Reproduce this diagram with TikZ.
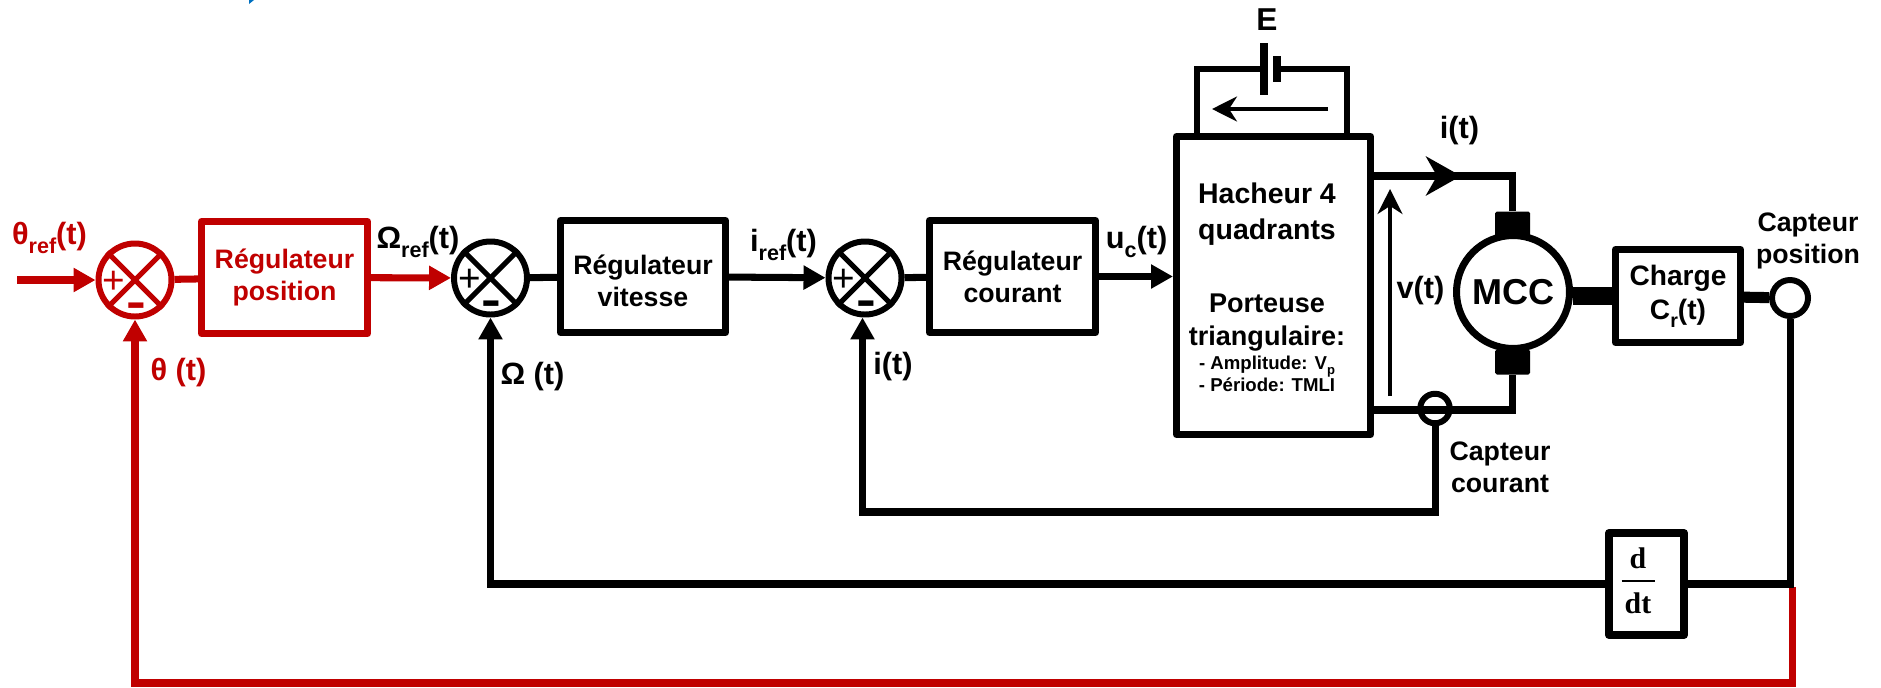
\documentclass[tikz,border=0pt]{standalone}
\usepackage{fontspec}
\setmainfont{Liberation Sans}
\newfontfamily\fonteserif{Liberation Serif}
\usetikzlibrary{arrows.meta}
\definecolor{rougeboucle}{HTML}{C00000}
\definecolor{bleutrace}{HTML}{0070C0}
\newcommand{\indice}[1]{\raisebox{-.28em}{\scalebox{.7}{#1}}}

\begin{document}
\begin{tikzpicture}[
every node/.style={
font=\bfseries\fontsize{15.2}{18.2}\selectfont,
align=center,
inner sep=0pt
},
bloc/.style={
draw,
line width=4pt,
line join=round
},
sommateur/.style={
draw,
circle,
line width=3.4pt,
minimum size=1.46cm
},
capteur/.style={
draw,
circle,
fill=white,
line width=3.4pt
},
balai/.style={
fill=black,
rounded corners=1pt,
minimum width=.7cm,
minimum height=.5cm
},
etiquette/.style={
font=\bfseries\fontsize{17.5}{20}\selectfont
},
fil/.style={
line width=4pt
},
fleche/.style={
fil,
-{Triangle[length=.44cm,width=.46cm]}
},
fine/.style={
line width=2pt,
-{Stealth[length=.5cm,width=.5cm,inset=.16cm]}
},
rouge/.style={
draw=rougeboucle,
text=rougeboucle
}
]

\useasboundingbox (0,0) rectangle (37.62,-13.74);

\fill[bleutrace] (4.98,0) -- (5.08,0) -- (4.98,-.08) -- cycle;

\node[sommateur,rouge] (sommeth) at (2.7,-5.6)
{};

\node[bloc,rouge,minimum width=3.32cm,minimum height=2.24cm] (regpos) at (5.69,-5.55)
{Régulateur\\position};

\node[sommateur] (sommev) at (9.81,-5.56)
{};

\node[bloc,minimum width=3.3cm,minimum height=2.24cm] (regvit) at (12.86,-5.53)
{\rule{0pt}{16.5pt}Régulateur\\vitesse};

\node[sommateur] (sommei) at (17.3,-5.56)
{};

\node[bloc,minimum width=3.32cm,minimum height=2.24cm] (regcour) at (20.25,-5.53)
{Régulateur\\courant};

\node[bloc,minimum width=3.88cm,minimum height=5.96cm] (hacheur) at (25.47,-5.71)
{};

\node[font=\bfseries\fontsize{16.2}{20.6}\selectfont] (hacheurtitre) at (25.34,-4.28)
{Hacheur 4\\quadrants};

\node[font=\bfseries\fontsize{15.4}{18.8}\selectfont] (porteuse) at (25.34,-6.46)
{Porteuse\\triangulaire:};

\node[font=\bfseries\fontsize{10.6}{12.5}\selectfont] (parametres) at (25.34,-7.47)
{- Amplitude: V\indice{p}\\- Période: TMLI};

\node[balai] (balaihaut) at (30.25,-4.48)
{};

\node[balai] (balaibas) at (30.25,-7.24)
{};

\node[draw,circle,fill=white,line width=4pt,minimum size=2.26cm,font=\bfseries\fontsize{20.5}{24}\selectfont] (moteur) at (30.26,-5.84)
{MCC};

\node[bloc,minimum width=2.5cm,minimum height=1.86cm,font=\bfseries\fontsize{16}{19.4}\selectfont] (charge) at (33.56,-5.92)
{Charge\\C\indice{r}(t)};

\node[capteur,minimum size=.59cm,fill=none] (capteurcourant) at (28.7,-8.17)
{};

\node[capteur,minimum size=.72cm] (capteurposition) at (35.8,-5.96)
{};

\node[bloc,line width=4.5pt,minimum width=1.5cm,minimum height=2.04cm] (derivee) at (32.93,-11.68)
{};

\node[font=\fonteserif\bfseries\fontsize{17}{13}\selectfont] (fraction) at (32.76,-11.62)
{d\\[-5.6pt]\rule{.66cm}{1pt}\\[5.2pt]dt};

\node[fill=black,minimum width=.16cm,minimum height=1.04cm] (plaquelongue) at (25.28,-1.38)
{};

\node[fill=black,minimum width=.16cm,minimum height=.52cm] (plaquecourte) at (25.54,-1.38)
{};

\coordinate (entree) at (.34,-5.6);
\coordinate (battg) at (23.94,-2.7);
\coordinate (battd) at (26.94,-2.7);
\coordinate (batfin) at (24.24,-2.18);
\coordinate (batdebut) at (26.56,-2.18);
\coordinate (sortiei) at (27.48,-3.52);
\coordinate (pointei) at (29.22,-3.52);
\coordinate (sortiebas) at (27.48,-8.2);
\coordinate (tensionbas) at (27.8,-7.92);
\coordinate (tensionhaut) at (27.8,-3.78);
\coordinate (coudei) at (17.25,-10.24);
\coordinate (departth) at (35.84,-11.74);
\coordinate (coudeth) at (2.7,-13.66);

\foreach \s/\c in {sommeth/rougeboucle,sommev/black,sommei/black}{
\draw[\c,line width=3pt] (\s.45) -- (\s.225);
\draw[\c,line width=3pt] (\s.135) -- (\s.-45);
\node[text=\c,font=\normalfont\fontsize{22}{22}\selectfont] (\s plus) at ([xshift=-.42cm,yshift=-.04cm]\s)
{+};
\node[text=\c,font=\bfseries\fontsize{26}{26}\selectfont] (\s moins) at ([xshift=.02cm,yshift=-.6cm]\s)
{\scalebox{1.3}[1]{-}};
}

\draw[fleche,rougeboucle] (entree) -- (sommeth);
\draw[fil,rougeboucle] (sommeth) -- (regpos);
\draw[fleche,rougeboucle] (regpos) -- (sommev);
\draw[fil] (sommev) -- (regvit);
\draw[fleche] (regvit) -- (sommei);
\draw[fil] (sommei) -- (regcour);
\draw[fleche] (regcour) -- (regcour -| hacheur.west);

\draw[line width=3.4pt] (battg) |- (plaquelongue);
\draw[line width=3.4pt] (battd) |- (plaquecourte);
\draw[fine] (batdebut) -- (batfin);

\draw[fil] (sortiei) -| (balaihaut);
\draw[fil,-{Stealth[length=.7cm,width=.78cm,inset=.22cm]}] (sortiei) -- (pointei);
\draw[fil] (sortiebas) -| (balaibas);
\draw[fine] (tensionbas) -- (tensionhaut);

\draw[line width=9.7pt] (moteur.east |- charge) -- (charge);
\draw[line width=6.3pt] (charge) -- (capteurposition);

\draw[fleche] (capteurcourant) |- (coudei) -- (coudei |- sommei.south);

\draw[fleche,rougeboucle] (departth) |- (coudeth) -- (sommeth);
\draw[fil] (capteurposition) |- (derivee);
\draw[fleche] (derivee) -| (sommev);

\node[etiquette,text=rougeboucle] (thetaref) at (.99,-4.76)
{θ\indice{ref}(t)};

\node[etiquette] (omegaref) at (8.36,-4.84)
{Ω\indice{ref}(t)};

\node[etiquette,text=rougeboucle] (theta) at (3.57,-7.46)
{θ (t)};

\node[etiquette] (omega) at (10.65,-7.54)
{Ω (t)};

\node[etiquette] (iref) at (15.67,-4.9)
{i\indice{ref}(t)};

\node[etiquette] (uc) at (22.73,-4.84)
{u\indice{c}(t)};

\node[etiquette] (iretour) at (17.86,-7.34)
{i(t)};

\node[etiquette] (imoteur) at (29.19,-2.62)
{i(t)};

\node[etiquette] (tension) at (28.41,-5.82)
{v(t)};

\node[font=\bfseries\fontsize{18}{20}\selectfont] (source) at (25.34,-.4)
{E};

\node (capteurcourantlabel) at (30,-9.34)
{Capteur\\courant};

\node (capteurpositionlabel) at (36.16,-4.82)
{Capteur\\position};

\end{tikzpicture}
\end{document}
